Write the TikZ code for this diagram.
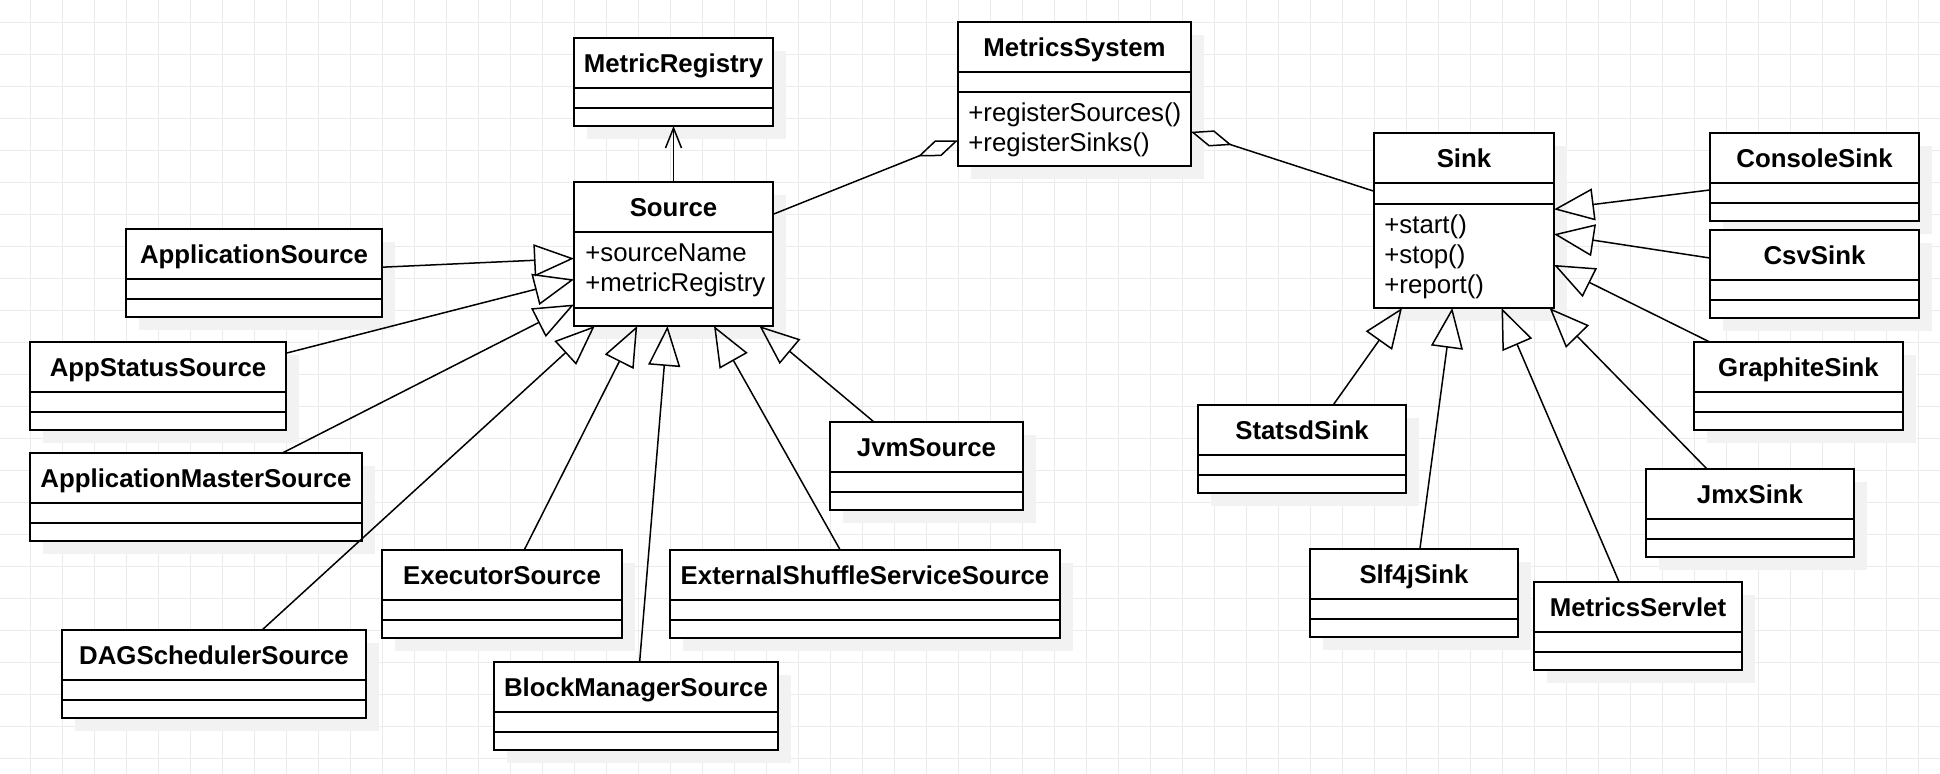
\documentclass[tikz,border=0pt]{standalone}
\usepackage{fontspec}
\setmainfont{Liberation Sans}
\usetikzlibrary{arrows.meta,calc}
\definecolor{gridc}{HTML}{EBEBEB}
\definecolor{shadowc}{HTML}{F2F2F2}
\tikzset{
  classbox/.style={rectangle, draw=black, line width=1pt, fill=white, inner sep=0pt, outer sep=0pt},
  classline/.style={draw=black, line width=1pt},
  titletext/.style={font=\fontsize{12.9pt}{15pt}\selectfont\bfseries, inner sep=0pt, anchor=base},
  membertext/.style={font=\fontsize{12.9pt}{15pt}\selectfont, inner sep=0pt, anchor=base west},
  inherit/.style={draw=black, line width=0.75pt, -{Triangle[open, length=20pt, width=16pt]}},
  aggr/.style={draw=black, line width=0.75pt, -{Diamond[open, length=21.5pt, width=8.5pt]}},
  assoc/.style={draw=black, line width=0.75pt, -{Straight Barb[length=10pt, width=8pt]}},
  gridline/.style={draw=gridc, line width=0.5pt},
}
% #1 name, #2 x, #3 y, #4 width, #5 title, #6 header h, #7 2nd h, #8 3rd h
\newcommand\umlclass[8]{%
  \fill[shadowc] (#2+13,#3+13) rectangle (#2+13+#4,#3+13+#6+#7+#8);
  \node[classbox, anchor=north west, minimum width={#4*0.5pt}, minimum height={(#6+#7+#8)*0.5pt}] (#1) at (#2,#3) {};
  \node[titletext] (#1-title) at ($(#1.north)+(0,34.5)$) {#5};
  \draw[classline] ($(#1.north west)+(0,#6)$) -- ($(#1.north east)+(0,#6)$);
  \draw[classline] ($(#1.north west)+(0,#6+#7)$) -- ($(#1.north east)+(0,#6+#7)$);
}
\begin{document}
\begin{tikzpicture}[x=0.5pt, y=-0.5pt]
\useasboundingbox (0,0) rectangle (1940,774);
\fill[white] (0,0) rectangle (1940,774);
\foreach \i in {0,...,59} \draw[gridline] (30.7+32*\i,0) -- (30.7+32*\i,774);
\foreach \j in {0,...,23} \draw[gridline] (0,22.7+32*\j) -- (1940,22.7+32*\j);

% central classes
\umlclass{metricregistry}{574}{38}{199}{MetricRegistry}{50}{20}{18}
\umlclass{metricssystem}{958}{22}{233}{MetricsSystem}{50}{20}{74}
\node[membertext] (ms-m1) at ($(metricssystem.north west)+(10,100)$) {+registerSources()};
\node[membertext] (ms-m2) at ($(metricssystem.north west)+(10,130)$) {+registerSinks()};
\umlclass{source}{574}{182}{199}{Source}{50}{76}{18}
\node[membertext] (src-a1) at ($(source.north west)+(11,80)$) {+sourceName};
\node[membertext] (src-a2) at ($(source.north west)+(11,110)$) {+metricRegistry};
\umlclass{sink}{1374}{133}{180}{Sink}{50}{21}{104}
\node[membertext] (sink-m1) at ($(sink.north west)+(10,101)$) {+start()};
\node[membertext] (sink-m2) at ($(sink.north west)+(10,131)$) {+stop()};
\node[membertext] (sink-m3) at ($(sink.north west)+(10,161)$) {+report()};

% sources
\umlclass{appsrc}{126}{229}{256}{ApplicationSource}{50}{20}{18}
\umlclass{appstatus}{30}{342}{256}{AppStatusSource}{50}{20}{18}
\umlclass{appmaster}{30}{453}{332}{ApplicationMasterSource}{50}{20}{18}
\umlclass{dagsched}{62}{630}{304}{DAGSchedulerSource}{50}{20}{18}
\umlclass{executor}{382}{550}{240}{ExecutorSource}{50}{20}{18}
\umlclass{blockmgr}{494}{662}{284}{BlockManagerSource}{50}{20}{18}
\umlclass{extshuffle}{670}{550}{390}{ExternalShuffleServiceSource}{50}{20}{18}
\umlclass{jvm}{830}{422}{193}{JvmSource}{50}{20}{18}

% sinks
\umlclass{console}{1710}{133}{209}{ConsoleSink}{50}{20}{18}
\umlclass{csv}{1710}{230}{209}{CsvSink}{50}{20}{18}
\umlclass{graphite}{1694}{342}{209}{GraphiteSink}{50}{20}{18}
\umlclass{jmx}{1646}{469}{208}{JmxSink}{50}{20}{18}
\umlclass{statsd}{1198}{405}{208}{StatsdSink}{50}{20}{18}
\umlclass{slf4j}{1310}{549}{208}{Slf4jSink}{50}{20}{18}
\umlclass{servlet}{1534}{582}{208}{MetricsServlet}{50}{20}{18}

% connectors
\draw[assoc] (source) -- (metricregistry);
\draw[aggr] (source) -- (metricssystem);
\draw[aggr] (sink) -- (metricssystem);

\foreach \c in {appsrc,appstatus,appmaster,dagsched,executor,blockmgr,extshuffle,jvm}
  \draw[inherit] (\c) -- (source);
\foreach \c in {console,csv,graphite,jmx,statsd,slf4j,servlet}
  \draw[inherit] (\c) -- (sink);
\end{tikzpicture}
\end{document}
